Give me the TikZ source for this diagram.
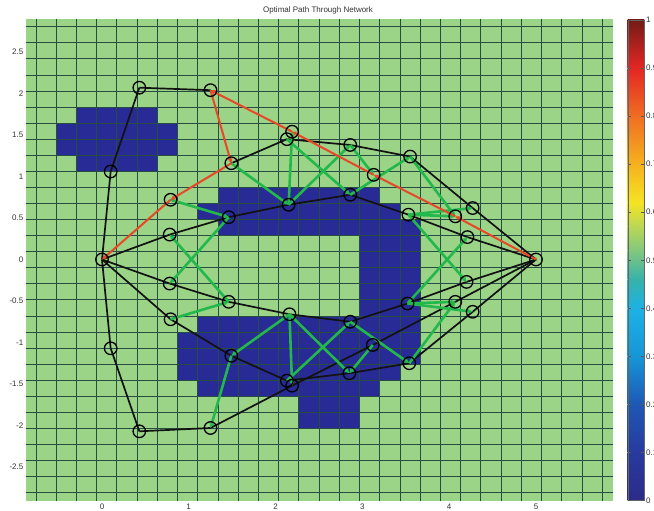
\documentclass[tikz,border=0pt]{standalone}
\usepackage{fontspec}
\setmainfont{Liberation Sans}
\usetikzlibrary{arrows.meta}
\definecolor{cellgreen}{RGB}{155,212,135}
\definecolor{obsblue}{RGB}{40,42,150}
\definecolor{gridc}{RGB}{38,76,68}
\definecolor{pathred}{RGB}{232,72,40}
\definecolor{edgegreen}{RGB}{34,184,76}
\definecolor{edgeblack}{RGB}{18,18,18}
\definecolor{cb00}{RGB}{44,43,135}
\definecolor{cb10}{RGB}{40,58,158}
\definecolor{cb20}{RGB}{30,88,180}
\definecolor{cb30}{RGB}{22,150,215}
\definecolor{cb40}{RGB}{28,178,228}
\definecolor{cb46}{RGB}{55,178,170}
\definecolor{cb52}{RGB}{130,200,125}
\definecolor{cb57}{RGB}{185,215,85}
\definecolor{cb62}{RGB}{245,228,35}
\definecolor{cb70}{RGB}{245,178,30}
\definecolor{cb80}{RGB}{240,110,35}
\definecolor{cb90}{RGB}{228,38,35}
\definecolor{cb100}{RGB}{115,28,22}
\newcommand{\obsrect}[4]{\fill[obsblue] ({36+20.22*#1},{26.7+16.07*#2}) rectangle ({36+20.22*#3},{26.7+16.07*#4});}
\newcommand{\cbseg}[4]{\shade[bottom color=#1, top color=#3] (627.7,{500.5-480.5*#2}) rectangle (644.3,{500.5-480.5*#4});}
\tikzset{
  blk/.style={edgeblack, line width=1.7pt},
  grn/.style={edgegreen, line width=2.6pt, -{Stealth[length=5pt,width=5pt]}},
  redp/.style={pathred, line width=2pt, -{Stealth[length=5pt,width=5pt]}},
  ring/.style={circle, draw=black, line width=1.3pt, minimum size=12.5pt, inner sep=0pt},
  lbl/.style={inner sep=0pt, font=\fontsize{8}{9}\selectfont, text=black!80}
}
\begin{document}
\begin{tikzpicture}[x=1pt,y=-1pt]
\clip (0,0) rectangle (654,511);
\fill[white] (0,0) rectangle (654,511);
% plot area
\fill[cellgreen] (26,19) rectangle (613.3,500.7);
% obstacles
\obsrect{1}{6}{7}{8}
\obsrect{2}{5}{6}{9}
\obsrect{9}{10}{17}{11}
\obsrect{8}{11}{18}{12}
\obsrect{9}{12}{19}{13}
\obsrect{16}{13}{19}{18}
\obsrect{8}{18}{19}{19}
\obsrect{7}{19}{19}{21}
\obsrect{7}{21}{18}{22}
\obsrect{8}{22}{17}{23}
\obsrect{13}{23}{16}{25}
% grid
\foreach \i in {0,...,28} \draw[gridc, line width=0.8pt] ({36+20.22*\i},19) -- ({36+20.22*\i},500.7);
\foreach \j in {0,...,29} \draw[gridc, line width=0.8pt] (26,{26.7+16.07*\j}) -- (613.3,{26.7+16.07*\j});
% title and tick labels
\node[lbl] (title) at (318,10) {Optimal Path Through Network};
\foreach \v/\px in {0/102,1/188.6,2/275.6,3/362.4,4/449.2,5/536} \node[lbl] (xt\v) at (\px,507) {\v};
\foreach \v [count=\k] in {2.5,2,1.5,1,0.5,0,-0.5,-1,-1.5,-2,-2.5} \node[lbl, anchor=east] (yt\k) at (23.5,{259.5-83*\v}) {\v};
% colorbar
\cbseg{cb00}{0}{cb10}{0.10}
\cbseg{cb10}{0.10}{cb20}{0.20}
\cbseg{cb20}{0.20}{cb30}{0.30}
\cbseg{cb30}{0.30}{cb40}{0.40}
\cbseg{cb40}{0.40}{cb46}{0.46}
\cbseg{cb46}{0.46}{cb52}{0.52}
\cbseg{cb52}{0.52}{cb57}{0.57}
\cbseg{cb57}{0.57}{cb62}{0.62}
\cbseg{cb62}{0.62}{cb70}{0.70}
\cbseg{cb70}{0.70}{cb80}{0.80}
\cbseg{cb80}{0.80}{cb90}{0.90}
\cbseg{cb90}{0.90}{cb100}{1.00}
\draw[black!60, line width=0.4pt] (627.7,20) rectangle (644.3,500.5);
\foreach \t [count=\k] in {0,0.1,0.2,0.3,0.4,0.5,0.6,0.7,0.8,0.9,1} {
  \draw[black!65, line width=0.5pt] (627.7,{500.5-480.5*\t}) -- (631,{500.5-480.5*\t});
  \draw[black!65, line width=0.5pt] (641,{500.5-480.5*\t}) -- (644.3,{500.5-480.5*\t});
  \node[lbl, anchor=west] (cbl\k) at (646,{500.5-480.5*\t}) {\t};
}
% network positions (data coordinates)
\begin{scope}[shift={(102,259.5)}, x=86.8pt, y=83pt]
\coordinate (S) at (0,0);
\coordinate (E) at (5,0);
\coordinate (A0) at (0.10,1.06);   \coordinate (A0m) at (0.10,-1.07);
\coordinate (A1) at (0.43,2.07);   \coordinate (A1m) at (0.43,-2.07);
\coordinate (A2) at (1.25,2.04);   \coordinate (A2m) at (1.25,-2.03);
\coordinate (C1) at (0.79,0.72);   \coordinate (C1m) at (0.79,-0.72);
\coordinate (C2) at (0.78,0.30);   \coordinate (C2m) at (0.78,-0.29);
\coordinate (B2) at (1.49,1.16);   \coordinate (B2m) at (1.49,-1.16);
\coordinate (D1) at (1.46,0.51);   \coordinate (D1m) at (1.46,-0.51);
\coordinate (D2) at (2.15,0.66);   \coordinate (D2m) at (2.16,-0.66);
\coordinate (B1) at (2.13,1.45);   \coordinate (B1m) at (2.13,-1.46);
\coordinate (B1x) at (2.19,1.54);  \coordinate (B1mx) at (2.19,-1.52);
\coordinate (F1) at (2.86,1.38);   \coordinate (F1m) at (2.85,-1.37);
\coordinate (F2) at (3.55,1.24);   \coordinate (F2m) at (3.54,-1.25);
\coordinate (R) at (3.13,1.02);    \coordinate (Rm) at (3.12,-1.03);
\coordinate (G1) at (2.86,0.78);   \coordinate (G1m) at (2.86,-0.75);
\coordinate (G2) at (3.53,0.54);   \coordinate (G2m) at (3.52,-0.53);
\coordinate (H1) at (4.27,0.62);   \coordinate (H1m) at (4.27,-0.63);
\coordinate (H2) at (4.07,0.52);   \coordinate (H2m) at (4.07,-0.51);
\coordinate (H3) at (4.21,0.27);   \coordinate (H3m) at (4.20,-0.27);
\end{scope}
% black edges
\foreach \a/\b in {S/A0, A0/A1, A1/A2, B2/B1, B1/F1, F1/F2, F2/H1, H1/E, S/C2, C2/D1, D1/D2, D2/G1, G1/G2, G2/H3, H3/E,
  S/A0m, A0m/A1m, A1m/A2m, A2m/B1mx, S/C1m, C1m/B2m, B2m/B1m, B1mx/Rm, Rm/H2m, H2m/E, B1m/F1m, F1m/F2m, F2m/H1m, H1m/E,
  S/C2m, C2m/D1m, D1m/D2m, D2m/G1m, G1m/G2m, G2m/H3m, H3m/E}
  \draw[blk] (\a) -- (\b);
% green edges
\foreach \a/\b in {C1/D1, D1m/C2, D1/C2m, C1m/D1m, B2/D2, D2/B1x, D2/F1, B1/G1, F1/R, G1/F2, F2/H2, G2/H1, G2/H2, G2/H3m,
  D2m/B2m, B2m/A2m, D2m/B1mx, D2m/F1m, B1m/G1m, Rm/F1m, G1m/F2m, F2m/H2m, G2m/H1m, G2m/H2m, G2m/H3}
  \draw[grn] (\a) -- (\b);
% optimal path (red)
\foreach \a/\b in {E/H2, H2/R, R/B1x, B1x/A2, A2/B2, B2/C1, C1/S}
  \draw[redp] (\a) -- (\b);
% node markers
\foreach \n in {S, E, A0, A1, A2, C1, C2, B2, D1, D2, B1, B1x, F1, F2, R, G1, G2, H1, H2, H3,
  A0m, A1m, A2m, C1m, C2m, B2m, D1m, D2m, B1m, B1mx, F1m, F2m, Rm, G1m, G2m, H1m, H2m, H3m}
  \node[ring] (\n-c) at (\n) {};
\end{tikzpicture}
\end{document}
